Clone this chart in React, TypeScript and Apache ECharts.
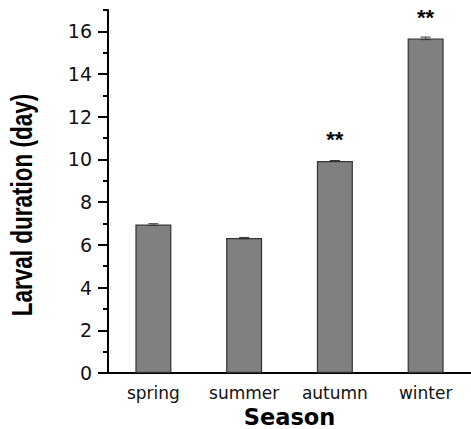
import React, { useEffect, useRef } from "react";
import * as echarts from "echarts";

const seasons = ["spring", "summer", "autumn", "winter"];
const durations = [6.95, 6.32, 9.93, 15.67];
const errors = [0.04, 0.03, 0.02, 0.06];
const significance = ["", "", "**", "**"];
const majorTicks = [0, 2, 4, 6, 8, 10, 12, 14, 16];
const minorTicks = [1, 3, 5, 7, 9, 11, 13, 15, 17];

export default function App() {
  const ref = useRef<HTMLDivElement>(null);
  useEffect(() => {
    if (!ref.current) return;
    const chart = echarts.init(ref.current, undefined, { renderer: "svg" });
    const labelFont = "DejaVu Sans";
    chart.setOption({
      animation: false,
      backgroundColor: "#fff",
      grid: { left: 108, top: 10, right: 0, bottom: 56, containLabel: false, outerBoundsMode: "none" },
      xAxis: [
        {
          type: "category",
          data: seasons,
          position: "bottom",
          name: "Season",
          nameLocation: "middle",
          nameGap: 32,
          nameTextStyle: { fontFamily: labelFont, fontWeight: "bold", fontSize: 22.5, lineHeight: 20, color: "#000" },
          axisLine: { lineStyle: { color: "#000", width: 2 } },
          axisTick: { alignWithLabel: true, length: 7, lineStyle: { color: "#000", width: 2 } },
          axisLabel: { interval: 0, margin: 11, fontFamily: labelFont, fontSize: 17, color: "#111" },
        },
        {
          type: "category",
          data: seasons,
          position: "bottom",
          axisLine: { show: false },
          axisTick: { interval: 0, length: 6, lineStyle: { color: "#000", width: 2 } },
          axisLabel: { show: false },
        },
      ],
      yAxis: [
        {
          type: "value",
          min: 0,
          max: 17,
          position: "left",
          splitLine: { show: false },
          axisLine: { show: true, lineStyle: { color: "#000", width: 2 } },
          axisTick: { show: true, customValues: majorTicks, length: 10, lineStyle: { color: "#000", width: 2 } },
          axisLabel: {
            customValues: majorTicks,
            margin: 16,
            fontFamily: labelFont,
            fontSize: 19,
            color: "#111",
            padding: [4, 0, 0, 0],
          },
        },
        {
          type: "value",
          min: 0,
          max: 17,
          position: "left",
          splitLine: { show: false },
          axisLine: { show: false },
          axisTick: { show: true, customValues: minorTicks, length: 5, lineStyle: { color: "#000", width: 2 } },
          axisLabel: { show: false },
        },
      ],
      graphic: [
        {
          type: "text",
          x: 22,
          y: 205,
          rotation: Math.PI / 2,
          scaleY: 1.35,
          style: {
            text: "Larval duration (day)",
            font: 'bold 22.5px "Liberation Sans"',
            fill: "#000",
            textAlign: "center",
            textVerticalAlign: "middle",
          },
        },
      ],
      series: [
        {
          type: "bar",
          xAxisIndex: 0,
          yAxisIndex: 0,
          barWidth: 36,
          data: durations.map((v, i) => ({
            value: v,
            label: {
              show: significance[i] !== "",
              formatter: significance[i],
            },
          })),
          itemStyle: { color: "#808080", borderColor: "#333", borderWidth: 1.2 },
          label: {
            position: "top",
            distance: 10,
            fontFamily: "Liberation Sans",
            fontWeight: "bold",
            fontSize: 22,
            color: "#000",
          },
        },
        {
          type: "custom",
          xAxisIndex: 0,
          yAxisIndex: 0,
          data: durations.map((v, i) => [i, v - errors[i], v + errors[i]]),
          renderItem: (params: any, api: any) => {
            const x = api.value(0);
            const lo = api.coord([x, api.value(1)]);
            const hi = api.coord([x, api.value(2)]);
            const hw = 5;
            const style = { stroke: "#333", lineWidth: 1 };
            return {
              type: "group",
              children: [
                { type: "line", shape: { x1: hi[0], y1: hi[1], x2: lo[0], y2: lo[1] }, style },
                { type: "line", shape: { x1: hi[0] - hw, y1: hi[1], x2: hi[0] + hw, y2: hi[1] }, style },
                { type: "line", shape: { x1: lo[0] - hw, y1: lo[1], x2: lo[0] + hw, y2: lo[1] }, style },
              ],
            };
          },
          z: 5,
        },
      ],
    });
    return () => chart.dispose();
  }, []);
  return <div ref={ref} style={{ width: 471, height: 429, position: "absolute", left: 0, top: 0 }} />;
}
